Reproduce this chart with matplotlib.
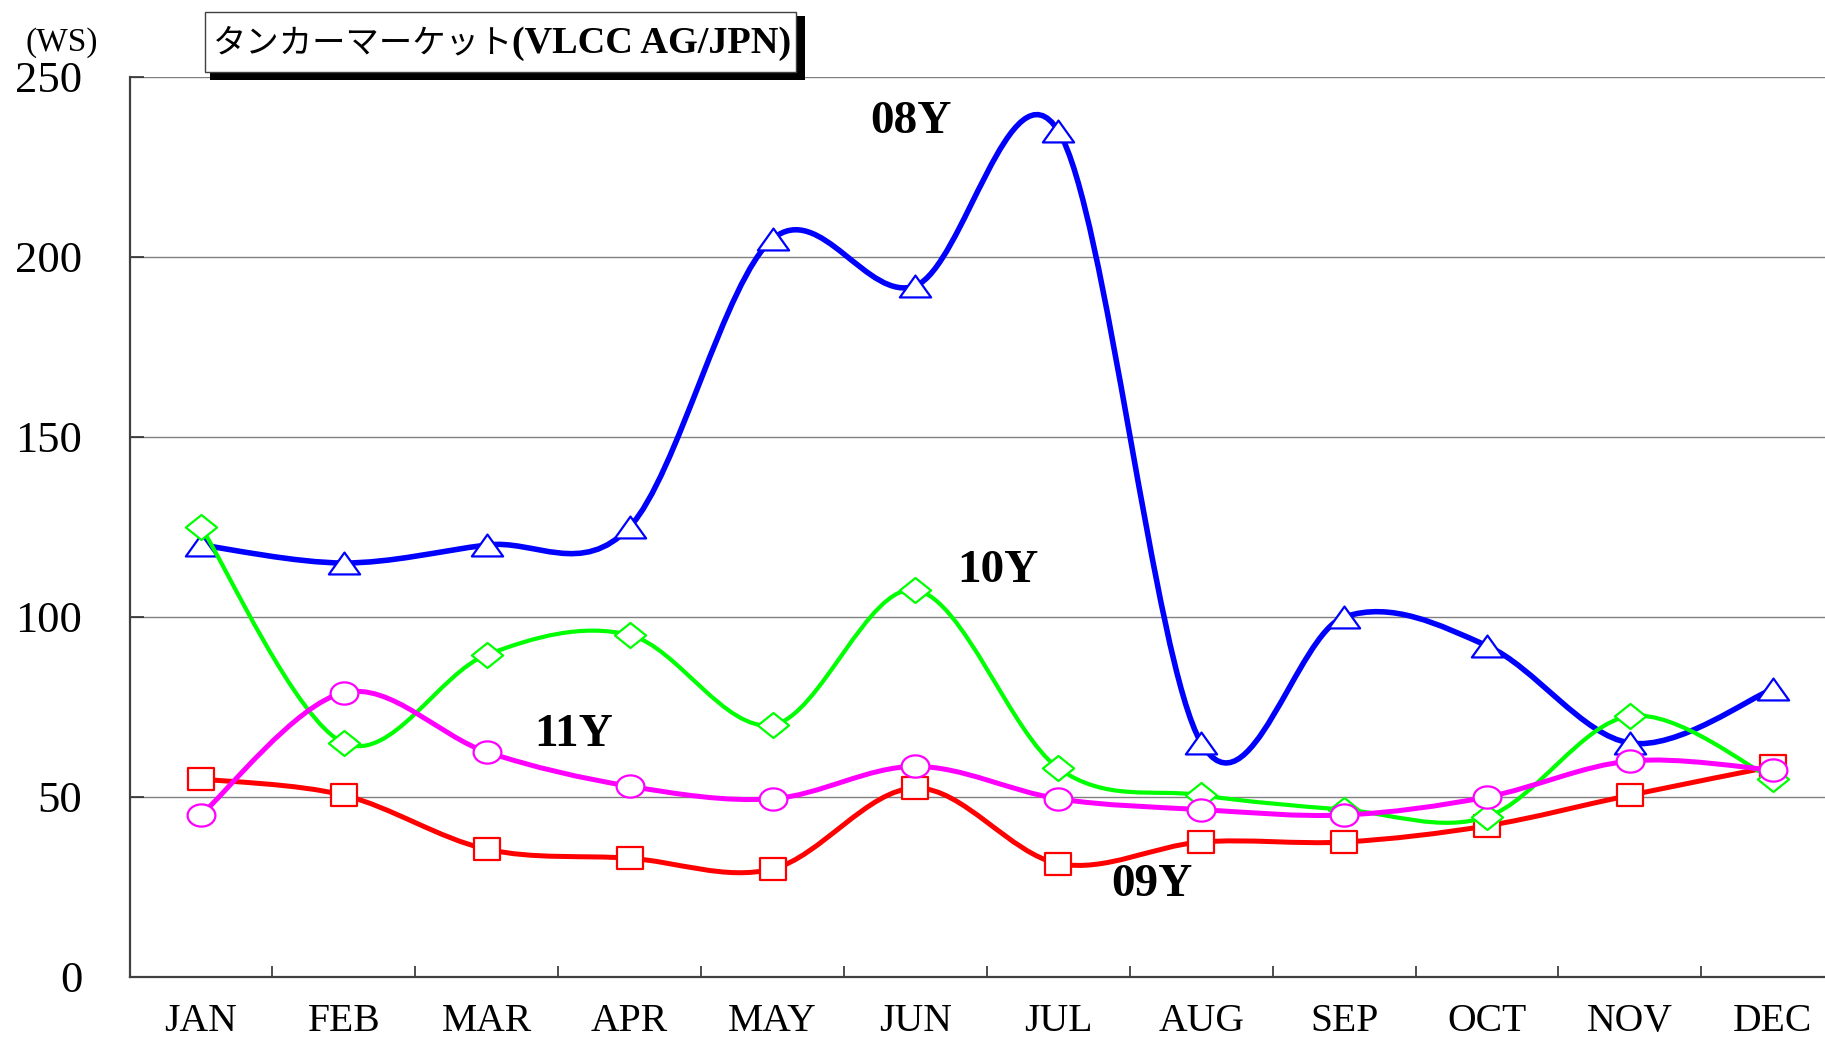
import numpy as np
import matplotlib.pyplot as plt
from matplotlib.path import Path
from matplotlib.patches import PathPatch, Rectangle

months = ['JAN', 'FEB', 'MAR', 'APR', 'MAY', 'JUN',
          'JUL', 'AUG', 'SEP', 'OCT', 'NOV', 'DEC']
ws_08 = [120, 115, 120, 125, 205, 192, 235, 65, 100, 92, 65, 80]
ws_09 = [55, 50.5, 35.5, 33, 30, 52.5, 31.5, 37.5, 37.5, 42, 50.5, 58.5]
ws_10 = [125, 65, 89.5, 95, 70, 107.5, 58, 50.5, 46.5, 44.5, 72.5, 55]
ws_11 = [45, 79, 62.5, 53, 49.5, 58.5, 49.5, 46.5, 45, 50, 60, 57.5]
series_names = ['08Y', '09Y', '10Y', '11Y']
y_ticks = [0, 50, 100, 150, 200, 250]

W, H = 1825, 1043
serif = 'Liberation Serif'


def smooth_path(xs, ys):
    # excel style smoothed line: cubic bezier through every point
    pts = np.column_stack([xs, ys]).astype(float)
    ext = np.vstack([pts[0], pts, pts[-1]])
    verts = [pts[0]]
    codes = [Path.MOVETO]
    for i in range(len(pts) - 1):
        p0, p1, p2, p3 = ext[i], ext[i + 1], ext[i + 2], ext[i + 3]
        verts += [p1 + (p2 - p0) / 6, p2 - (p3 - p1) / 6, p2]
        codes += [Path.CURVE4] * 3
    return Path(verts, codes)


def shape(v):
    v = list(v) + [v[0]]
    return Path(v, closed=True)


tri = shape([(-1, -0.7), (1, -0.7), (0, 0.7)])
dia = shape([(0, -0.8), (1, 0), (0, 0.8), (-1, 0)])
sq = shape([(-1, -0.83), (1, -0.83), (1, 0.83), (-1, 0.83)])
t = np.linspace(0, 2 * np.pi, 64, endpoint=False)
ell = shape(list(zip(np.cos(t), 0.8 * np.sin(t))))

fig = plt.figure(figsize=(W / 100, H / 100), dpi=100)
ax = fig.add_axes([129.5 / W, 66 / H, 1714.8 / W, 900 / H])

x = np.arange(len(months))
styles = [
    (ws_08, '#0000FF', 4.0, tri, 22.5),
    (ws_09, '#FF0000', 3.6, sq, 19),
    (ws_10, '#00FF00', 3.0, dia, 22.5),
    (ws_11, '#FF00FF', 3.6, ell, 20),
]
for k, (vals, col, lw, mk, ms) in enumerate(styles):
    ax.add_patch(PathPatch(smooth_path(x, vals), fill=False, edgecolor=col,
                           lw=lw, zorder=3 + k * 2, capstyle='round',
                           joinstyle='round'))
    ax.plot(x, vals, linestyle='none', marker=mk, ms=ms, mfc='white',
            mec=col, mew=1.6, zorder=4 + k * 2, clip_on=False)

ax.set_xlim(-0.5, 11.5)
ax.set_ylim(0, 250)
ax.set_yticks(y_ticks)
ax.set_yticklabels([str(v) for v in y_ticks], fontsize=32, family=serif)
ax.tick_params(axis='y', direction='in', length=10, width=1.2,
               color='#303030', pad=34)
ax.yaxis.grid(True, color='#808080', lw=1.0)
ax.set_axisbelow(True)

ax.set_xticks(np.arange(len(months) - 1) + 0.5)
ax.set_xticklabels([])
ax.tick_params(axis='x', which='major', direction='in', length=8,
               width=1.2, color='#303030')
ax.set_xticks(x, minor=True)
ax.set_xticklabels(months, minor=True, fontsize=28.5, family=serif)
ax.tick_params(axis='x', which='minor', length=0, pad=19)

for side in ['top', 'right']:
    ax.spines[side].set_visible(False)
for side in ['left', 'bottom']:
    ax.spines[side].set_color('#404040')
    ax.spines[side].set_linewidth(1.6)

# series labels
label_pos = [(4.97, 234.4), (6.655, 22.4), (5.58, 109.6), (2.61, 64.3)]
for name, (lx, ly) in zip(series_names, label_pos):
    ax.text(lx, ly, name, ha='center', va='baseline', fontsize=34,
            fontweight='bold', family=serif, zorder=20)

fig.text(62 / W, 1 - 43 / H, '(WS)', ha='center', va='center',
         fontsize=24, family=serif)

# title box with shadow
fig.add_artist(Rectangle((210 / W, 1 - 80 / H), 595 / W, 64 / H,
                         transform=fig.transFigure, facecolor='black',
                         edgecolor='none', zorder=30))
fig.add_artist(Rectangle((205 / W, 1 - 72 / H), 591 / W, 60 / H,
                         transform=fig.transFigure, facecolor='white',
                         edgecolor='#404040', lw=1, zorder=31))
fig.text(213 / W, 1 - 43 / H, 'タンカーマーケット', ha='left', va='center',
         fontsize=24, family=['Noto Sans CJK JP', 'DejaVu Sans'], zorder=32)
fig.text(512 / W, 1 - 53 / H, '(VLCC AG/JPN)', ha='left', va='baseline',
         fontsize=27.5, fontweight='bold', family=serif, zorder=32)

fig.savefig('out.png', dpi=100)
